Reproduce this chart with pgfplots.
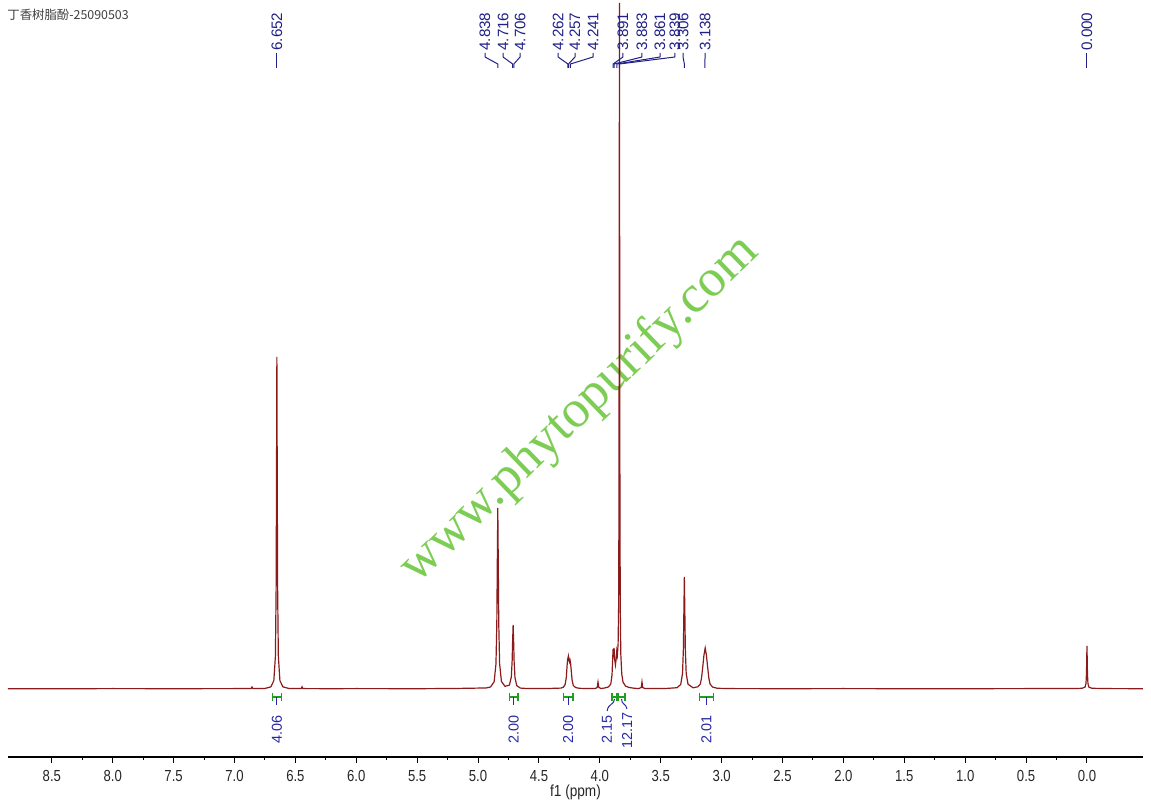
\documentclass[border=0pt]{standalone}
\usepackage{pgfplots}
\pgfplotsset{compat=1.18}
\usepackage{fontspec}
\setmainfont{Liberation Sans}
\newfontfamily\cjk{Noto Sans CJK SC}
\newfontfamily\serifwm{Liberation Serif}
\definecolor{specred}{RGB}{139,26,26}
\definecolor{labelblue}{RGB}{32,32,135}
\definecolor{intgreen}{RGB}{30,160,30}
\definecolor{intblue}{RGB}{40,40,165}
\definecolor{wmgreen}{RGB}{125,205,85}
\newcommand{\plab}[3]{%
  \draw[labelblue, line width=0.5pt] (axis cs:#2,636) -- (axis cs:#2,632) -- (axis cs:#3,625) -- (axis cs:#3,621);
  \node[labelblue, rotate=90, anchor=west, inner sep=0pt, font=\fontsize{7.6}{8}\selectfont] at (axis cs:#2,638) {#1};
}
\newcommand{\integ}[2]{%
  \draw[intgreen, line width=0.6pt] (axis cs:#1,-8) -- (axis cs:#2,-8) (axis cs:#1,-4) -- (axis cs:#1,-12) (axis cs:#2,-4) -- (axis cs:#2,-12);
}
\newcommand{\ilab}[2]{%
  \node[intblue, rotate=90, anchor=east, inner sep=0pt, font=\fontsize{7.2}{8}\selectfont] at (axis cs:#1,-26) {#2};
}
\begin{document}
\begin{tikzpicture}
\begin{axis}[name=ax, scale only axis, width=567.5pt, height=378.5pt,
  x dir=reverse, xmin=-0.46, xmax=8.86, ymin=-68, ymax=689,
  axis x line*=bottom, axis y line=none, ytick=\empty,
  clip=false,
  xtick={0,0.5,...,8.5},
  minor x tick num=1,
  tick align=outside,
  major tick length=3pt, minor tick length=1.6pt,
  every tick/.style={black, line width=0.5pt},
  axis line style={black, line width=0.8pt},
  xticklabel style={font=\fontsize{8}{9}\selectfont, xscale=0.82, text=black!85, /pgf/number format/.cd, fixed, fixed zerofill, precision=1, assume math mode=true},
  xlabel={f1 (ppm)},
  xlabel style={font=\fontsize{8}{9}\selectfont, xscale=0.85, text=black!85, inner sep=0pt, yshift=2pt},
]
\node[wmgreen, rotate=44, font=\serifwm\fontsize{26.5}{30}\selectfont] at (axis cs:4.163,279) {www.phytopurify.com};
\addplot[specred, line width=0.6pt] coordinates {
(8.86,0.3)(8.5,0.2)(8.0,0.4)(7.5,0.3)(7.0,0.4)
(6.90,0.5)(6.862,0.6)(6.856,2)(6.850,0.6)(6.80,0.5)
(6.752,0.5)(6.702,2.1)(6.677,8.3)(6.664,33)(6.658,102)(6.655,212)(6.652,332)(6.649,212)(6.646,102)(6.640,33)(6.627,8.3)(6.602,2.1)(6.552,0.5)
(6.47,0.4)(6.451,0.6)(6.445,2.2)(6.439,0.6)(6.42,0.4)
(6.2,0.3)(6.0,0.4)(5.5,0.3)(5.2,0.5)(5.0,0.9)
(4.938,0.9)(4.898,2)(4.868,7.2)(4.853,25)(4.846,65)(4.842,125)(4.838,181)(4.834,125)(4.830,65)(4.823,25.2)(4.808,7.5)(4.778,2.6)
(4.742,4)(4.727,12)(4.720,28.5)(4.716,48.5)(4.712,64)(4.708,48)(4.704,28)(4.697,11.4)(4.682,3.3)(4.652,0.9)(4.60,0.5)(4.50,0.4)(4.40,0.6)
(4.32,0.9)(4.30,1.8)(4.285,4.5)(4.275,12)(4.268,25)(4.264,30)(4.262,31)(4.260,28)(4.257,32)(4.253,29)(4.249,27)(4.245,29)(4.241,27)(4.236,20)(4.228,9)(4.218,3.5)(4.20,1.5)(4.17,0.7)(4.10,0.4)
(4.04,0.4)(4.022,1.5)(4.015,7)(4.008,1.5)(3.99,0.5)
(3.96,1)(3.93,2)(3.91,5)(3.900,14)(3.894,32)(3.891,40)(3.887,32)(3.883,41)(3.879,30)(3.872,24)(3.866,30)(3.861,38)(3.856,34)(3.850,45)(3.846,80)(3.843,180)(3.841,400)(3.839,686)(3.837,400)(3.835,180)(3.832,80)(3.828,35)(3.82,15)(3.81,7)(3.79,3)(3.76,1.5)(3.72,0.8)
(3.68,0.4)(3.66,1.5)(3.654,7)(3.648,1.5)(3.63,0.4)
(3.55,0.4)(3.45,0.6)(3.40,1)
(3.366,1.3)(3.336,4.5)(3.321,15.6)(3.314,40)(3.310,77)(3.306,112)(3.302,77)(3.298,40)(3.291,15.6)(3.276,4.8)(3.246,2.2)
(3.235,1.2)(3.195,2.2)(3.175,5)(3.165,11)(3.155,22)(3.145,34)(3.135,41)(3.125,34)(3.115,22)(3.105,11)(3.095,5)(3.075,2)(3.035,0.7)
(2.9,0.4)(2.5,0.3)(2.0,0.4)(1.5,0.3)(1.28,0.3)(1.0,0.3)(0.5,0.4)(0.1,0.5)
(0.04,0.7)(0.015,2)(0.008,5.5)(0.004,15.5)(0.002,29.8)(0,43)(-0.002,29.8)(-0.004,15.5)(-0.008,5.5)(-0.015,2)(-0.04,0.7)(-0.2,0.4)(-0.46,0.3)
};
% title
\node[anchor=west, inner sep=0pt, text=black!75, font=\cjk\fontsize{6.2}{7}\selectfont] at ([xshift=-0.5pt,yshift=-7.5pt]rel axis cs:0,1) {丁香树脂酚-25090503};
% peak labels
\plab{6.652}{6.652}{6.652}
\plab{4.838}{4.943}{4.838}
\plab{4.716}{4.795}{4.716}
\plab{4.706}{4.655}{4.706}
\plab{4.262}{4.343}{4.262}
\plab{4.257}{4.204}{4.257}
\plab{4.241}{4.056}{4.241}
\plab{3.891}{3.810}{3.891}
\plab{3.883}{3.654}{3.883}
\plab{3.861}{3.506}{3.861}
\plab{3.839}{3.383}{3.839}
\plab{3.306}{3.317}{3.306}
\plab{3.138}{3.136}{3.138}
\plab{0.000}{0.000}{0.000}
% integrals
\integ{6.69}{6.615}
\integ{4.745}{4.672}
\integ{4.30}{4.22}
\integ{3.90}{3.859}
\integ{3.851}{3.793}
\integ{3.18}{3.07}
\draw[intblue, line width=0.5pt] (axis cs:6.652,-8) -- (axis cs:6.652,-16);
\draw[intblue, line width=0.5pt] (axis cs:4.708,-8) -- (axis cs:4.708,-16);
\draw[intblue, line width=0.5pt] (axis cs:4.26,-8) -- (axis cs:4.26,-16);
\draw[intblue, line width=0.5pt] (axis cs:3.125,-8) -- (axis cs:3.125,-16);
\draw[intblue, line width=0.5pt] (axis cs:3.88,-10) .. controls (axis cs:3.88,-16) and (axis cs:3.93,-14) .. (axis cs:3.94,-22);
\draw[intblue, line width=0.5pt] (axis cs:3.822,-10) .. controls (axis cs:3.822,-16) and (axis cs:3.785,-14) .. (axis cs:3.777,-20);
\ilab{6.652}{4.06}
\ilab{4.708}{2.00}
\ilab{4.26}{2.00}
\ilab{3.941}{2.15}
\node[intblue, rotate=90, anchor=east, inner sep=0pt, font=\fontsize{7.2}{8}\selectfont] at (axis cs:3.777,-23) {12.17};
\ilab{3.125}{2.01}
\end{axis}
\pgfresetboundingbox
\path ([shift={(-4pt,-25.5pt)}]ax.south west) rectangle ([shift={(4pt,0pt)}]ax.north east);
\end{tikzpicture}
\end{document}
